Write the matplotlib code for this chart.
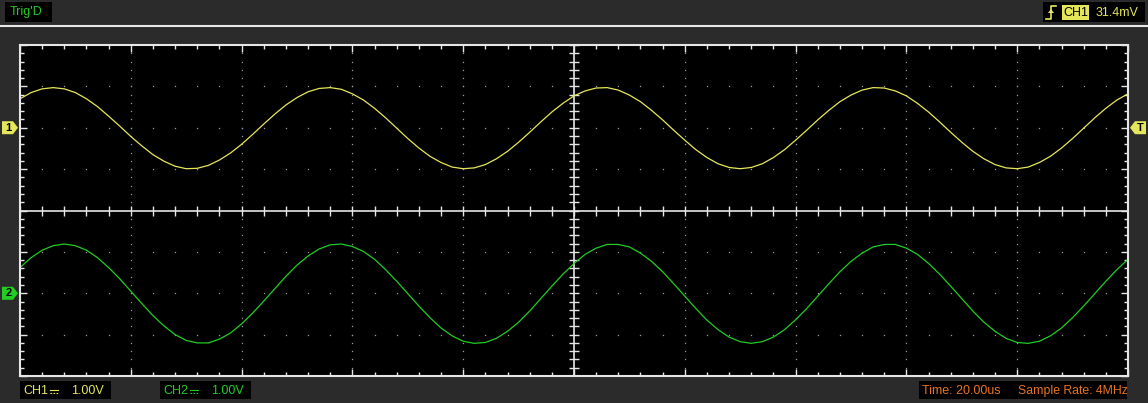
import numpy as np
import matplotlib
matplotlib.use("Agg")
import matplotlib.pyplot as plt
from matplotlib.patches import Rectangle, Polygon
from matplotlib.lines import Line2D

W, H = 1148, 403

# sample times in us (20 us/div, 10 divisions on screen)
time_us = np.arange(0, 201, 2)
time_per_div = 20.0

# channel voltages (1 V/div)
ch1_volts = [0.70, 0.85, 0.94, 0.97, 0.94, 0.85, 0.70, 0.51, 0.28, 0.04,
             -0.21, -0.44, -0.65, -0.81, -0.93, -0.99, -0.98, -0.91, -0.78, -0.61,
             -0.40, -0.16, 0.09, 0.33, 0.55, 0.73, 0.87, 0.95, 0.97, 0.93,
             0.82, 0.67, 0.47, 0.24, -0.01, -0.26, -0.49, -0.69, -0.84, -0.95,
             -0.99, -0.97, -0.89, -0.75, -0.57, -0.35, -0.11, 0.14, 0.38, 0.59,
             0.77, 0.89, 0.96, 0.97, 0.91, 0.79, 0.63, 0.42, 0.19, -0.06,
             -0.30, -0.53, -0.72, -0.87, -0.96, -0.99, -0.96, -0.87, -0.72, -0.53,
             -0.30, -0.06, 0.19, 0.42, 0.63, 0.79, 0.91, 0.97, 0.96, 0.89,
             0.77, 0.59, 0.38, 0.14, -0.11, -0.35, -0.57, -0.75, -0.89, -0.97,
             -0.99, -0.95, -0.84, -0.69, -0.49, -0.26, -0.01, 0.24, 0.47, 0.67,
             0.82]
ch2_volts = [0.62, 0.86, 1.04, 1.15, 1.19, 1.15, 1.04, 0.86, 0.62, 0.35,
             0.05, -0.25, -0.54, -0.79, -1.00, -1.14, -1.20, -1.20, -1.11, -0.96,
             -0.74, -0.48, -0.19, 0.11, 0.41, 0.68, 0.90, 1.07, 1.17, 1.19,
             1.13, 1.01, 0.82, 0.57, 0.29, -0.01, -0.31, -0.59, -0.84, -1.03,
             -1.16, -1.21, -1.19, -1.09, -0.92, -0.70, -0.43, -0.13, 0.17, 0.46,
             0.72, 0.94, 1.09, 1.18, 1.18, 1.12, 0.97, 0.77, 0.52, 0.23,
             -0.07, -0.37, -0.65, -0.88, -1.06, -1.17, -1.21, -1.17, -1.06, -0.88,
             -0.64, -0.37, -0.07, 0.23, 0.52, 0.77, 0.97, 1.12, 1.18, 1.18,
             1.09, 0.94, 0.72, 0.46, 0.17, -0.13, -0.43, -0.70, -0.92, -1.09,
             -1.19, -1.21, -1.16, -1.03, -0.84, -0.59, -0.31, -0.01, 0.29, 0.57,
             0.82]
ch1_pos_div, ch2_pos_div = 2.0, -2.0
ch1_vdiv, ch2_vdiv = 1.00, 1.00
trig_level = "31.4mV"
sample_rate = "4MHz"

BG = "#2b2b2b"
YEL = "#e6e65a"
GRN = "#22cc22"
ORG = "#e8731e"
FONT = "Liberation Sans"


def fx(x): return x / W
def fy(y): return 1 - y / H


def box(x0, y0, x1, y1, color="black"):
    fig.add_artist(Rectangle((fx(x0), fy(y1)), fx(x1 - x0), (y1 - y0) / H,
                             transform=fig.transFigure, facecolor=color, edgecolor="none"))


def label(x, y, s, color, size=9, **kw):
    fig.text(fx(x), fy(y), s, color=color, fontsize=size, family=[FONT, "DejaVu Sans"],
             va="center", ha=kw.pop("ha", "left"), **kw)


def seg(xs, ys, color, lw=1.0, **kw):
    fig.add_artist(Line2D([fx(a) for a in xs], [fy(b) for b in ys],
                          transform=fig.transFigure, color=color, lw=lw, **kw))


def dc_symbol(x0, x1, y, color):
    # DC coupling sign (solid over dashed); no installed font has U+2393
    seg([x0, x1], [y, y], color, lw=0.8)
    seg([x0, x1], [y + 3.5, y + 3.5], color, lw=0.8, dashes=(1.5, 1.2))


def marker(pts, color, txt, tx, ty):
    fig.add_artist(Polygon([(fx(a), fy(b)) for a, b in pts], closed=True,
                           transform=fig.transFigure, facecolor=color, edgecolor="none"))
    fig.text(fx(tx), fy(ty), txt, color="black", fontsize=8, fontweight="bold",
             family=FONT, ha="center", va="center")


fig = plt.figure(figsize=(W / 100, H / 100), dpi=100, facecolor=BG)
ax = fig.add_axes([fx(20), fy(376), fx(1108), 331 / H])
ax.set_facecolor("black")
ax.set_xlim(0, 10); ax.set_ylim(-4, 4)
for sp in ax.spines.values():
    sp.set_color("#e6e6e6"); sp.set_linewidth(1.5)
ax.set_xticks(np.arange(0, 11, 1)); ax.set_xticks(np.arange(0, 10.01, 0.2), minor=True)
ax.set_yticks(np.arange(-4, 5, 1)); ax.set_yticks(np.arange(-4, 4.01, 0.2), minor=True)
ax.tick_params(which="both", direction="in", colors="#e6e6e6", top=True, right=True,
               labelbottom=False, labelleft=False)
ax.tick_params(which="major", length=5, width=1)
ax.tick_params(which="minor", length=3, width=1)

# dotted graticule
dx = np.arange(0, 10.01, 0.2)
dy = np.arange(-4, 4.01, 0.2)
for xi in [1, 2, 3, 4, 6, 7, 8, 9]:
    ax.plot(np.full_like(dy, xi), dy, ls="none", marker="s", ms=0.9, mew=0, color="#9a9a9a")
for yi in [-3, -2, -1, 1, 2, 3]:
    ax.plot(dx, np.full_like(dx, yi), ls="none", marker="s", ms=0.9, mew=0, color="#9a9a9a")

# centre cross with ticks
ax.axhline(0, color="#e6e6e6", lw=1.2)
ax.axvline(5, color="#e6e6e6", lw=1.2)
ax.plot(dx, np.zeros_like(dx), ls="none", marker="|", ms=7, mew=1, color="#e6e6e6")
ax.plot(np.full_like(dy, 5), dy, ls="none", marker="_", ms=7, mew=1, color="#e6e6e6")

t_div = time_us / time_per_div
ax.plot(t_div, np.array(ch1_volts) / ch1_vdiv + ch1_pos_div, color=YEL, lw=0.9)
ax.plot(t_div, np.array(ch2_volts) / ch2_vdiv + ch2_pos_div, color=GRN, lw=0.9)

# separator under the status bar
seg([0, W], [25.5, 25.5], "#e8e8e8", lw=1.5)

# top status boxes
box(5, 2, 52, 22)
label(10, 12.5, "Trig'D", GRN)
box(1043, 2, 1145, 22)
seg([1046, 1051, 1051, 1056], [19, 19, 6, 6], YEL, lw=1.2)
fig.add_artist(Polygon([(fx(1048), fy(13)), (fx(1054), fy(13)), (fx(1051), fy(9))], closed=True,
                       transform=fig.transFigure, facecolor=YEL, edgecolor="none"))
box(1062, 5, 1089, 20, YEL)
label(1075.5, 12.5, "CH1", "black", ha="center")
label(1096, 12.5, trig_level, YEL)

# channel position markers
y1px = 210.5 - ch1_pos_div * 41.4
y2px = 210.5 - ch2_pos_div * 41.4
marker([(2, y1px - 6.5), (13, y1px - 6.5), (18, y1px), (13, y1px + 6.5), (2, y1px + 6.5)],
       YEL, "1", 8.5, y1px)
marker([(2, y2px - 6.5), (13, y2px - 6.5), (18, y2px), (13, y2px + 6.5), (2, y2px + 6.5)],
       GRN, "2", 8.5, y2px)
marker([(1146, y1px - 6.5), (1135, y1px - 6.5), (1130, y1px), (1135, y1px + 6.5), (1146, y1px + 6.5)],
       YEL, "T", 1140, y1px)

# bottom status boxes
box(20, 381, 111, 399)
label(23, 391, "CH1", YEL)
dc_symbol(50, 58, 389.5, YEL)
label(71, 391, f"{ch1_vdiv:.2f}V", YEL)
box(160, 381, 251, 399)
label(163, 391, "CH2", GRN)
dc_symbol(190, 198, 389.5, GRN)
label(211, 391, f"{ch2_vdiv:.2f}V", GRN)
box(919, 381, 1127, 399)
label(922, 391, f"Time: {time_per_div:.2f}us", ORG)
label(1018, 391, f"Sample Rate: {sample_rate}", ORG, size=8.8)

fig.savefig("out.png", dpi=100, facecolor=BG)
